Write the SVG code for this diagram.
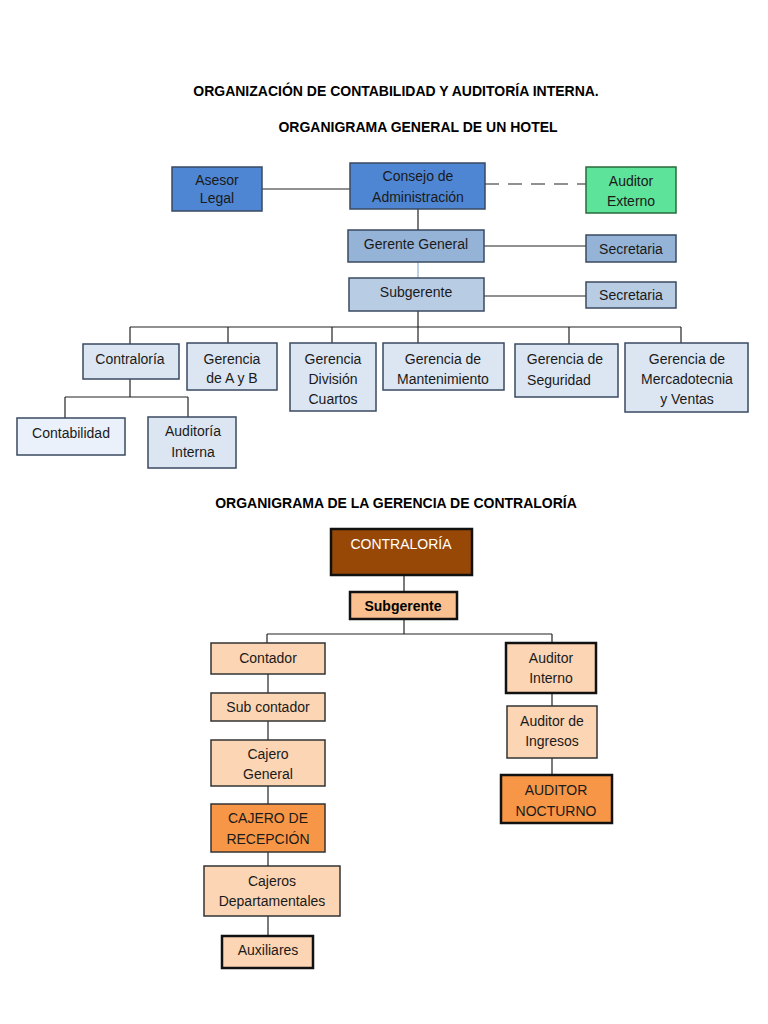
<svg xmlns="http://www.w3.org/2000/svg" width="768" height="1024" viewBox="0 0 768 1024">
<style>
text{font-family:"Liberation Sans",Arial,sans-serif;font-size:14px;fill:#1a1a1a;text-anchor:middle}
.t{font-weight:bold;font-size:14px;fill:#000}
.b{stroke:#3a4a60;stroke-width:1.5}
.o{stroke:#333;stroke-width:1.5}
.ot{stroke:#111;stroke-width:2.5}
.c line{stroke:#222;stroke-width:1.2}
</style>
<rect width="768" height="1024" fill="#fff"/>
<text class="t" x="396" y="96">ORGANIZACIÓN DE CONTABILIDAD Y AUDITORÍA INTERNA.</text>
<text class="t" x="418" y="132">ORGANIGRAMA GENERAL DE UN HOTEL</text>
<text class="t" x="396" y="508">ORGANIGRAMA DE LA GERENCIA DE CONTRALORÍA</text>
<g class="c">
<line x1="262" y1="189" x2="350" y2="189"/>
<line x1="485" y1="184" x2="586" y2="184" stroke-dasharray="14,9"/>
<line x1="418" y1="209" x2="418" y2="230"/>
<line x1="484" y1="246" x2="586" y2="246"/>
<line x1="418" y1="262" x2="418" y2="278" style="stroke:#8fb0d8"/>
<line x1="484" y1="296" x2="586" y2="296"/>
<line x1="418" y1="311" x2="418" y2="343"/>
<line x1="130" y1="327" x2="681" y2="327"/>
<line x1="130" y1="327" x2="130" y2="344"/>
<line x1="228" y1="327" x2="228" y2="343"/>
<line x1="332" y1="327" x2="332" y2="343"/>
<line x1="569" y1="327" x2="569" y2="344"/>
<line x1="681" y1="327" x2="681" y2="343"/>
<line x1="130" y1="379" x2="130" y2="397"/>
<line x1="65" y1="397" x2="188" y2="397"/>
<line x1="65" y1="397" x2="65" y2="418"/>
<line x1="188" y1="397" x2="188" y2="417"/>
<line x1="404" y1="575" x2="404" y2="592"/>
<line x1="404" y1="619" x2="404" y2="634"/>
<line x1="267" y1="634" x2="552" y2="634"/>
<line x1="267" y1="634" x2="267" y2="643"/>
<line x1="552" y1="634" x2="552" y2="643"/>
<line x1="268" y1="674" x2="268" y2="936"/>
<line x1="552" y1="693" x2="552" y2="775"/>
</g>
<g id="asesor"><rect class="b" x="172" y="167" width="90" height="44" fill="#4f86d4"/><text x="217" y="185">Asesor</text><text x="217" y="203">Legal</text></g>
<g id="consejo"><rect class="b" x="350" y="163" width="135" height="46" fill="#4f86d4"/><text x="418" y="181">Consejo de</text><text x="418" y="202">Administración</text></g>
<g id="auditorext"><rect x="586" y="167" width="90" height="46" fill="#5de39a" stroke="#2a6a3a" stroke-width="1.5"/><text x="631" y="186">Auditor</text><text x="631" y="206">Externo</text></g>
<g id="gerente"><rect class="b" x="348" y="230" width="136" height="32" fill="#95b3d7"/><text x="416" y="249">Gerente General</text></g>
<g id="sec1"><rect class="b" x="586" y="235" width="90" height="27" fill="#95b3d7"/><text x="631" y="254">Secretaria</text></g>
<g id="subg"><rect class="b" x="349" y="278" width="135" height="33" fill="#b8cce4"/><text x="416" y="297">Subgerente</text></g>
<g id="sec2"><rect class="b" x="586" y="282" width="90" height="26" fill="#b8cce4"/><text x="631" y="300">Secretaria</text></g>
<g id="contraloria"><rect class="b" x="83" y="344" width="96" height="35" fill="#dce6f2"/><text x="130" y="364">Contraloría</text></g>
<g id="ayb"><rect class="b" x="187" y="343" width="90" height="47" fill="#dce6f2"/><text x="232" y="364">Gerencia</text><text x="232" y="383">de A y B</text></g>
<g id="cuartos"><rect class="b" x="290" y="343" width="86" height="68" fill="#dce6f2"/><text x="333" y="364">Gerencia</text><text x="333" y="384">División</text><text x="333" y="404">Cuartos</text></g>
<g id="mant"><rect class="b" x="383" y="343" width="121" height="47" fill="#dce6f2"/><text x="443" y="364">Gerencia de</text><text x="443" y="384">Mantenimiento</text></g>
<g id="seg"><rect class="b" x="515" y="344" width="103" height="53" fill="#dce6f2"/><text x="565" y="364">Gerencia de</text><text x="559" y="385">Seguridad</text></g>
<g id="merc"><rect class="b" x="625" y="343" width="123" height="69" fill="#dce6f2"/><text x="687" y="364">Gerencia de</text><text x="687" y="384">Mercadotecnia</text><text x="687" y="404">y Ventas</text></g>
<g id="contab"><rect class="b" x="17" y="418" width="108" height="37" fill="#eaf1fb"/><text x="71" y="438">Contabilidad</text></g>
<g id="audint"><rect class="b" x="148" y="417" width="88" height="51" fill="#dce6f2"/><text x="193" y="436">Auditoría</text><text x="193" y="457">Interna</text></g>
<g id="contraloria2"><rect class="ot" x="331" y="529" width="141" height="46" fill="#974807"/><text x="401" y="549" style="fill:#fff">CONTRALORÍA</text></g>
<g id="subg2"><rect class="ot" x="350" y="592" width="107" height="27" fill="#fac090"/><text x="403" y="611" style="font-weight:bold;fill:#000">Subgerente</text></g>
<g id="contador"><rect class="o" x="211" y="643" width="114" height="31" fill="#fcd5b4"/><text x="268" y="663">Contador</text></g>
<g id="subcont"><rect class="o" x="211" y="693" width="114" height="28" fill="#fcd5b4"/><text x="268" y="712">Sub contador</text></g>
<g id="cajgen"><rect class="o" x="211" y="740" width="114" height="46" fill="#fcd5b4"/><text x="268" y="759">Cajero</text><text x="268" y="779">General</text></g>
<g id="cajrec"><rect class="o" x="211" y="804" width="114" height="48" fill="#f79646"/><text x="268" y="823">CAJERO DE</text><text x="268" y="844">RECEPCIÓN</text></g>
<g id="cajdep"><rect class="o" x="204" y="866" width="136" height="50" fill="#fcd5b4"/><text x="272" y="886">Cajeros</text><text x="272" y="906">Departamentales</text></g>
<g id="aux"><rect class="ot" x="222" y="936" width="91" height="32" fill="#fcd5b4"/><text x="268" y="955">Auxiliares</text></g>
<g id="audint2"><rect class="ot" x="506" y="643" width="90" height="50" fill="#fcd5b4"/><text x="551" y="663">Auditor</text><text x="551" y="683">Interno</text></g>
<g id="auding"><rect class="o" x="507" y="706" width="90" height="52" fill="#fcd5b4"/><text x="552" y="726">Auditor de</text><text x="552" y="746">Ingresos</text></g>
<g id="audnoc"><rect class="ot" x="501" y="775" width="111" height="48" fill="#f79646"/><text x="556" y="795">AUDITOR</text><text x="556" y="816">NOCTURNO</text></g>
</svg>
